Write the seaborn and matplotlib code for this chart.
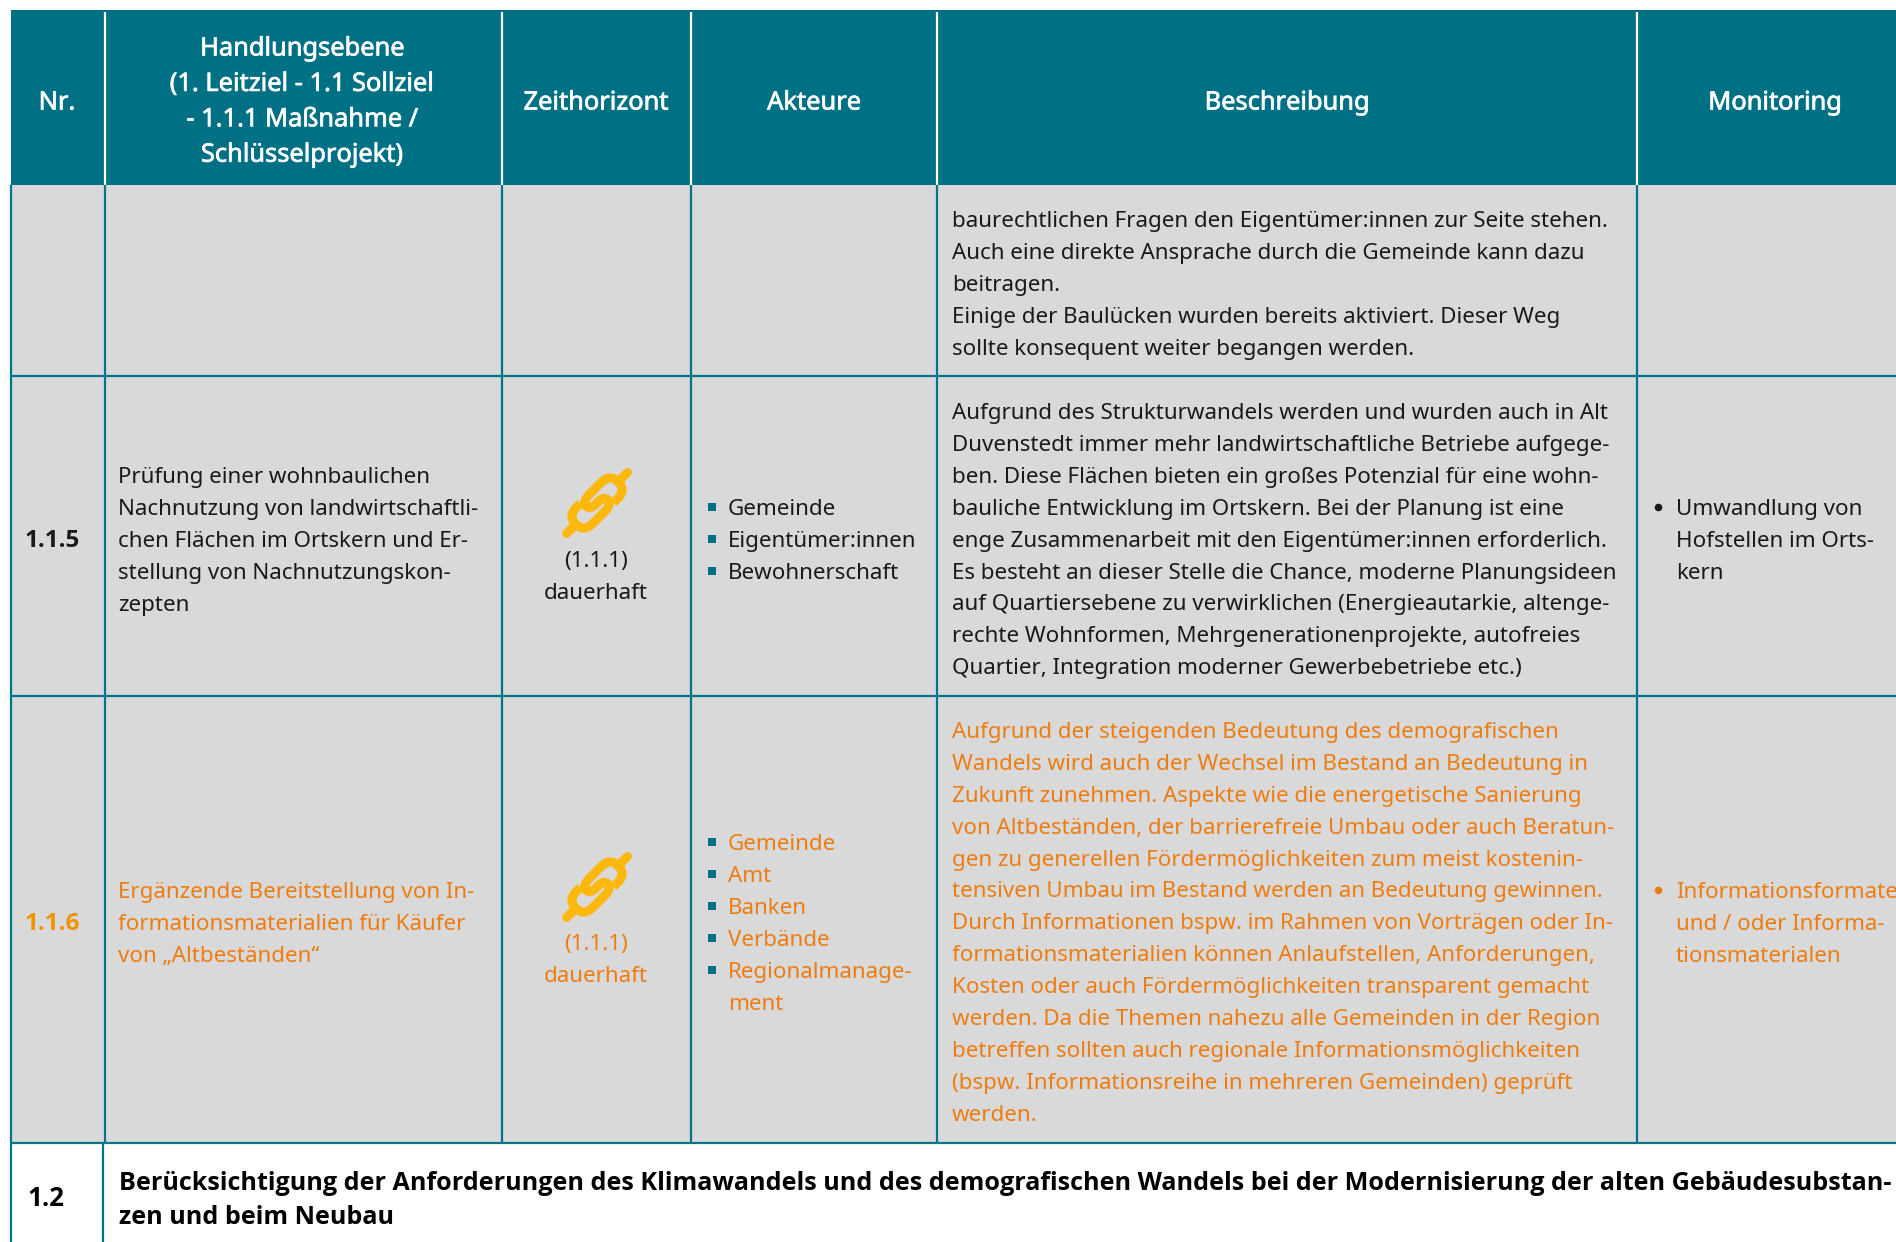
import numpy as np
import matplotlib
matplotlib.use("Agg")
import matplotlib.pyplot as plt
import matplotlib.patheffects as pe
import seaborn as sns
from matplotlib.colors import ListedColormap
from matplotlib.patches import PathPatch
from matplotlib.path import Path
from matplotlib.transforms import Affine2D

TEAL = "#007084"
LINE = "#007489"
GRAY = "#D9D9D9"
INK = "#1A1A1A"
ORANGE = "#EE7D11"
ORANGE_BOLD = "#F39200"
GOLD = "#FDB80D"

# table grid in pixels
row_heights = [10, 175, 191, 320, 447, 99]
col_widths = [11, 94, 397, 189, 246, 700, 259]
cell_kind = [
    [0, 0, 0, 0, 0, 0, 0],
    [0, 1, 1, 1, 1, 1, 1],
    [0, 2, 2, 2, 2, 2, 2],
    [0, 2, 2, 2, 2, 2, 2],
    [0, 2, 2, 2, 2, 2, 2],
    [0, 0, 0, 0, 0, 0, 0],
]

headers = ["Nr.", "Zeithorizont", "Akteure", "Beschreibung", "Monitoring"]
header_x = [57, 596, 814, 1287, 1775]
header_handlung = ["Handlungsebene", "(1. Leitziel - 1.1 Sollziel",
                   "- 1.1.1 Maßnahme /", "Schlüsselprojekt)"]

row0_text = [
    "baurechtlichen Fragen den Eigentümer:innen zur Seite stehen.",
    "Auch eine direkte Ansprache durch die Gemeinde kann dazu",
    "beitragen.",
    "Einige der Baulücken wurden bereits aktiviert. Dieser Weg",
    "sollte konsequent weiter begangen werden.",
]
row1_handlung = ["Prüfung einer wohnbaulichen", "Nachnutzung von landwirtschaftli-",
                 "chen Flächen im Ortskern und Er-", "stellung von Nachnutzungskon-", "zepten"]
row1_akteure = ["Gemeinde", "Eigentümer:innen", "Bewohnerschaft"]
row1_text = [
    "Aufgrund des Strukturwandels werden und wurden auch in Alt",
    "Duvenstedt immer mehr landwirtschaftliche Betriebe aufgege-",
    "ben. Diese Flächen bieten ein großes Potenzial für eine wohn-",
    "bauliche Entwicklung im Ortskern. Bei der Planung ist eine",
    "enge Zusammenarbeit mit den Eigentümer:innen erforderlich.",
    "Es besteht an dieser Stelle die Chance, moderne Planungsideen",
    "auf Quartiersebene zu verwirklichen (Energieautarkie, altenge-",
    "rechte Wohnformen, Mehrgenerationenprojekte, autofreies",
    "Quartier, Integration moderner Gewerbebetriebe etc.)",
]
row1_monitoring = ["Umwandlung von", "Hofstellen im Orts-", "kern"]

row2_handlung = ["Ergänzende Bereitstellung von In-", "formationsmaterialien für Käufer",
                 "von „Altbeständen“"]
row2_akteure = ["Gemeinde", "Amt", "Banken", "Verbände", "Regionalmanage-", "ment"]
row2_text = [
    "Aufgrund der steigenden Bedeutung des demografischen",
    "Wandels wird auch der Wechsel im Bestand an Bedeutung in",
    "Zukunft zunehmen. Aspekte wie die energetische Sanierung",
    "von Altbeständen, der barrierefreie Umbau oder auch Beratun-",
    "gen zu generellen Fördermöglichkeiten zum meist kostenin-",
    "tensiven Umbau im Bestand werden an Bedeutung gewinnen.",
    "Durch Informationen bspw. im Rahmen von Vorträgen oder In-",
    "formationsmaterialien können Anlaufstellen, Anforderungen,",
    "Kosten oder auch Fördermöglichkeiten transparent gemacht",
    "werden. Da die Themen nahezu alle Gemeinden in der Region",
    "betreffen sollten auch regionale Informationsmöglichkeiten",
    "(bspw. Informationsreihe in mehreren Gemeinden) geprüft",
    "werden.",
]
row2_monitoring = ["Informationsformate", "und / oder Informa-", "tionsmaterialen"]

row3_text = ["Berücksichtigung der Anforderungen des Klimawandels und des demografischen Wandels bei der Modernisierung der alten Gebäudesubstan-",
             "zen und beim Neubau"]

sns.set_theme(style="white")
plt.rcParams["font.family"] = ["Noto Sans", "DejaVu Sans"]
BOLD_FONT = ["Open Sans", "DejaVu Sans"]

fig = plt.figure(figsize=(18.96, 12.42), dpi=100)
ax = fig.add_axes([0, 0, 1, 1])

grid = np.repeat(np.repeat(np.array(cell_kind), row_heights, axis=0), col_widths, axis=1)
sns.heatmap(grid, ax=ax, cmap=ListedColormap(["white", TEAL, GRAY]), vmin=0, vmax=2,
            cbar=False, xticklabels=False, yticklabels=False)
ax.set_xlim(0, 1896)
ax.set_ylim(1242, 0)

col_edges = np.cumsum(col_widths)[:-1]
row_edges = np.cumsum(row_heights)[:-1]

# grid lines
LW = 1.6
ax.vlines(col_edges[1:], 12, 185, color="white", lw=LW)
ax.vlines(col_edges[0], 185, 1143, color=LINE, lw=LW)
ax.vlines(col_edges[0], 1143, 1242, color=LINE, lw=LW)
ax.vlines(col_edges[1] - 1.5, 1143, 1242, color=LINE, lw=LW)
ax.vlines(col_edges[1:], 185, 1143, color=LINE, lw=LW)
ax.hlines(row_edges[2:5], 11, 1896, color=LINE, lw=LW)

BODY = 16.1
HEAD = 18.3
HEAD_FX = [pe.withStroke(linewidth=0.5, foreground="white")]


def lines_at(lines, x, y0, color=INK, size=BODY, ha="left", step=31.9, **kw):
    for i, line in enumerate(lines):
        ax.text(x, y0 + i * step, line, color=color, fontsize=size,
                ha=ha, va="center_baseline", clip_on=True, **kw)


def bullets(x, ys, color, marker, s):
    ax.scatter([x] * len(ys), ys, color=color, marker=marker, s=s, linewidths=0, zorder=3)


def chain_icon(cx, cy):
    # one S shaped stroke, local u runs along the chain and +v is towards the lower right
    rot = Affine2D().rotate_deg(-45).translate(cx, cy) + ax.transData
    verts = [(12, 11.5), (18, 11.5),
             (30, 11.5), (30, 0), (30, -11.5), (18, -11.5),
             (2, -11.5), (-10, -11.5), (-10, -5.75), (-10, 0), (-2, 0),
             (2, 0), (10, 0), (10, 5.75), (10, 11.5), (-2, 11.5),
             (-18, 11.5), (-30, 11.5), (-30, 0), (-30, -11.5), (-18, -11.5),
             (-12, -11.5)]
    codes = [Path.MOVETO, Path.LINETO,
             Path.CURVE3, Path.CURVE3, Path.CURVE3, Path.CURVE3,
             Path.LINETO, Path.CURVE3, Path.CURVE3, Path.CURVE3, Path.CURVE3,
             Path.LINETO, Path.CURVE3, Path.CURVE3, Path.CURVE3, Path.CURVE3,
             Path.LINETO, Path.CURVE3, Path.CURVE3, Path.CURVE3, Path.CURVE3,
             Path.LINETO]
    ax.add_patch(PathPatch(Path(verts, codes), fc="none", ec=GOLD, lw=6.5, capstyle="butt",
                           joinstyle="round", transform=rot, zorder=4))
    ax.plot([-43, -30], [0, 0], color=GOLD, lw=6.5, solid_capstyle="round", transform=rot, zorder=4)
    ax.plot([30, 43], [0, 0], color=GOLD, lw=6.5, solid_capstyle="round", transform=rot, zorder=4)


# header
for x, label in zip(header_x, headers):
    ax.text(x, 100, label, color="white", fontsize=HEAD, ha="center", va="center_baseline",
            path_effects=HEAD_FX)
lines_at(header_handlung, 302, 46, color="white", size=HEAD, ha="center", step=35.4,
         path_effects=HEAD_FX)

# row 0 (continuation)
lines_at(row0_text, 952, 219)

# row 1
ax.text(25, 538, "1.1.5", color=INK, fontsize=17.5, fontweight="bold", family=BOLD_FONT,
        va="center_baseline")
lines_at(row1_handlung, 118.5, 475)
chain_icon(597, 503)
lines_at(["(1.1.1)", "dauerhaft"], 596, 559, ha="center")
lines_at(row1_akteure, 728, 507)
bullets(712, [507 + i * 31.9 for i in range(3)], TEAL, "s", 30)
lines_at(row1_text, 952, 411)
lines_at(row1_monitoring, 1676, 507)
bullets(1658, [507], INK, "o", 30)

# row 2
ax.text(25, 921, "1.1.6", color=ORANGE_BOLD, fontsize=17.5, fontweight="bold", family=BOLD_FONT,
        va="center_baseline")
lines_at(row2_handlung, 118.5, 890, color=ORANGE)
chain_icon(597, 887)
lines_at(["(1.1.1)", "dauerhaft"], 596, 942, color=ORANGE, ha="center")
lines_at(row2_akteure, 728, 842, color=ORANGE)
bullets(712, [842 + i * 31.9 for i in range(5)], TEAL, "s", 30)
lines_at(row2_text, 952, 730, color=ORANGE)
lines_at(row2_monitoring, 1676, 890, color=ORANGE)
bullets(1658, [890], ORANGE, "o", 30)

# row 3
ax.text(27, 1196, "1.2", color="black", fontsize=18.6, fontweight="bold", family=BOLD_FONT,
        va="center_baseline")
lines_at(row3_text, 119, 1180, color="black", size=18.1, step=35, fontweight="bold", family=BOLD_FONT)

ax.axis("off")
fig.savefig("out.png", dpi=100)
plt.close(fig)
